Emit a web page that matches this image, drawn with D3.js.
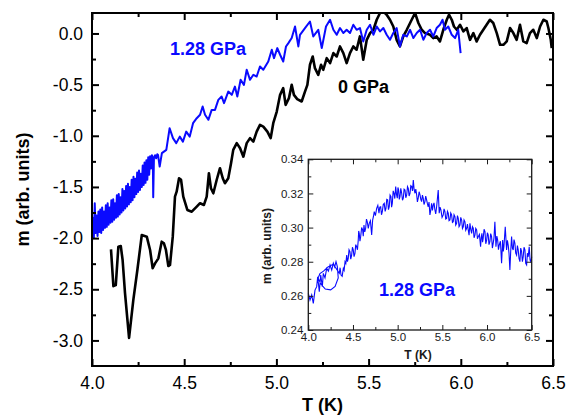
<!DOCTYPE html>
<html><head><meta charset="utf-8">
<script src="https://cdn.jsdelivr.net/npm/d3@7"></script>
<style>body{margin:0;background:#fff}svg{display:block}text{font-family:"Liberation Sans",Arial,sans-serif}</style>
</head><body><svg id="c" width="574" height="418"></svg>
<script>
// ---- tick labels ----
const xTicks = [4.0, 4.5, 5.0, 5.5, 6.0, 6.5];
const xMinor = [4.25, 4.75, 5.25, 5.75, 6.25];
const yTicks = [0.0, -0.5, -1.0, -1.5, -2.0, -2.5, -3.0];
const yMinor = [-0.25, -0.75, -1.25, -1.75, -2.25, -2.75];
const insetYTicks = [0.24, 0.26, 0.28, 0.30, 0.32, 0.34];
const insetYMinor = [0.25, 0.27, 0.29, 0.31, 0.33];

// ---- 0 GPa (black): T (K) and m ----
const T0 = [4.103,4.116,4.129,4.143,4.156,4.166,4.179,4.201,4.224,4.246,4.270,4.297,4.315,4.329,4.342,4.360,4.378,4.390,4.401,4.414,4.423,4.438,4.450,4.459,4.472,4.483,4.495,4.517,4.541,4.568,4.586,4.607,4.622,4.634,4.645,4.658,4.676,4.694,4.709,4.721,4.739,4.754,4.766,4.785,4.803,4.821,4.839,4.857,4.875,4.893,4.911,4.929,4.951,4.969,4.983,5.002,5.020,5.037,5.050,5.068,5.083,5.095,5.113,5.137,5.155,5.168,5.182,5.197,5.209,5.227,5.242,5.254,5.273,5.291,5.309,5.327,5.345,5.363,5.381,5.399,5.417,5.435,5.453,5.471,5.490,5.508,5.526,5.544,5.562,5.580,5.598,5.616,5.634,5.652,5.670,5.688,5.707,5.725,5.752,5.770,5.788,5.806,5.833,5.851,5.869,5.887,5.905,5.924,5.936,5.951,5.963,5.978,5.996,6.014,6.032,6.050,6.068,6.086,6.104,6.122,6.140,6.158,6.176,6.195,6.213,6.231,6.249,6.267,6.285,6.303,6.321,6.339,6.357,6.375,6.393,6.412,6.430,6.448,6.466,6.475,6.488,6.493];
const M0 = [-2.110,-2.469,-2.459,-2.084,-2.077,-2.214,-2.537,-2.975,-2.606,-2.312,-1.970,-1.986,-2.116,-2.295,-2.247,-2.198,-2.035,-2.051,-2.116,-2.273,-2.263,-1.986,-1.595,-1.546,-1.415,-1.431,-1.595,-1.725,-1.742,-1.693,-1.659,-1.676,-1.595,-1.366,-1.513,-1.562,-1.432,-1.317,-1.415,-1.464,-1.415,-1.268,-1.138,-1.072,-1.121,-1.204,-1.072,-1.023,-1.057,-0.959,-0.893,-0.910,-0.959,-1.023,-0.877,-0.763,-0.600,-0.534,-0.698,-0.632,-0.502,-0.600,-0.642,-0.665,-0.568,-0.502,-0.306,-0.225,-0.339,-0.404,-0.306,-0.355,-0.241,-0.290,-0.192,-0.225,-0.127,-0.192,-0.290,-0.192,-0.127,-0.159,-0.029,-0.257,-0.062,0.004,0.036,0.134,0.200,0.215,0.183,0.134,0.068,-0.062,-0.127,-0.029,0.036,0.102,0.200,0.102,0.036,0.004,-0.013,-0.045,-0.029,-0.078,0.036,0.134,0.183,0.134,0.068,0.036,0.085,0.020,0.053,-0.062,0.004,-0.078,-0.013,0.036,0.085,0.134,0.102,0.004,-0.111,-0.111,-0.078,0.053,0.004,-0.062,0.085,-0.078,-0.094,0.004,0.036,-0.045,0.068,0.134,0.117,0.053,-0.062,-0.143];

// ---- 1.28 GPa (blue, main): [T (K), m] ----
const P1 = [[4.000,-2.04],[4.005,-1.80],[4.010,-2.00],[4.015,-1.66],[4.020,-1.95],[4.025,-1.78],[4.030,-1.98],[4.035,-1.74],[4.040,-1.94],[4.045,-1.72],[4.050,-1.95],[4.055,-1.70],[4.060,-1.92],[4.065,-1.74],[4.070,-1.90],[4.075,-1.68],[4.080,-1.89],[4.085,-1.66],[4.090,-1.87],[4.095,-1.70],[4.100,-1.85],[4.105,-1.63],[4.110,-1.84],[4.115,-1.62],[4.120,-1.82],[4.125,-1.66],[4.130,-1.80],[4.135,-1.58],[4.140,-1.79],[4.145,-1.57],[4.150,-1.77],[4.155,-1.60],[4.160,-1.75],[4.165,-1.52],[4.170,-1.73],[4.175,-1.54],[4.180,-1.71],[4.185,-1.49],[4.190,-1.69],[4.195,-1.47],[4.200,-1.67],[4.205,-1.50],[4.210,-1.65],[4.215,-1.43],[4.220,-1.63],[4.225,-1.40],[4.230,-1.60],[4.235,-1.42],[4.240,-1.57],[4.245,-1.36],[4.250,-1.55],[4.255,-1.34],[4.260,-1.53],[4.265,-1.37],[4.270,-1.50],[4.275,-1.29],[4.280,-1.48],[4.285,-1.26],[4.290,-1.46],[4.295,-1.24],[4.300,-1.43],[4.305,-1.21],[4.310,-1.38],[4.315,-1.20],[4.320,-1.32],[4.325,-1.19],[4.330,-1.25],[4.332,-1.60],[4.336,-1.21],[4.342,-1.19],[4.348,-1.22],[4.354,-1.18],[4.358,-1.187],
[4.367,-1.301],[4.379,-1.170],[4.403,-1.138],[4.421,-0.926],[4.439,-1.023],[4.457,-1.072],[4.476,-1.008],[4.493,-1.057],[4.511,-0.959],[4.530,-1.008],[4.548,-0.877],[4.568,-0.828],[4.586,-0.795],[4.600,-0.714],[4.613,-0.795],[4.631,-0.844],[4.649,-0.747],[4.667,-0.747],[4.685,-0.649],[4.703,-0.616],[4.716,-0.681],[4.739,-0.568],[4.758,-0.600],[4.775,-0.519],[4.788,-0.616],[4.806,-0.453],[4.824,-0.502],[4.839,-0.355],[4.857,-0.453],[4.875,-0.404],[4.893,-0.421],[4.911,-0.323],[4.929,-0.355],[4.956,-0.274],[4.975,-0.159],[4.987,-0.241],[5.005,-0.143],[5.020,-0.208],[5.037,-0.274],[5.052,-0.127],[5.065,-0.094],[5.083,-0.045],[5.101,0.068],[5.119,-0.127],[5.128,-0.013],[5.155,0.053],[5.182,0.117],[5.200,-0.029],[5.227,0.036],[5.246,-0.143],[5.269,0.068],[5.291,0.134],[5.309,0.036],[5.327,-0.013],[5.345,0.053],[5.363,0.004],[5.381,0.036],[5.399,0.004],[5.417,0.085],[5.435,0.036],[5.453,0.053],[5.471,-0.078],[5.490,0.036],[5.508,0.085],[5.526,-0.013],[5.544,0.068],[5.562,0.020],[5.580,0.053],[5.598,-0.013],[5.616,-0.062],[5.634,0.004],[5.652,0.053],[5.670,-0.127],[5.688,-0.013],[5.707,-0.029],[5.725,0.036],[5.743,-0.045],[5.761,0.004],[5.779,0.036],[5.797,-0.062],[5.815,0.004],[5.833,0.036],[5.851,-0.029],[5.869,0.053],[5.887,0.085],[5.901,0.134],[5.914,0.036],[5.932,0.068],[5.951,-0.013],[5.969,-0.045],[5.986,0.036],[5.999,-0.192]];

// ---- inset, 1.28 GPa: [T (K), m] ----
const Pi = [[4.000,.2615],[4.019,.2576],[4.038,.2605],[4.056,.2556],[4.075,.2634],[4.094,.2654],[4.105,.2712],[4.123,.2624],[4.139,.2722],[4.157,.2654],[4.168,.2732],[4.187,.2705],[4.206,.2761],[4.225,.2745],[4.243,.2781],[4.262,.2751],[4.280,.2791],[4.295,.2770],[4.310,.2800],[4.325,.2771],
[4.335,.2705],[4.300,.2655],[4.250,.2635],[4.190,.2640],[4.140,.2670],[4.110,.2705],[4.130,.2730],[4.170,.2745],[4.220,.2770],[4.280,.2785],
[4.347,.2732],[4.356,.2765],[4.366,.2722],[4.379,.2715],[4.392,.2761],[4.401,.2750],[4.411,.2800],[4.420,.2790],[4.430,.2839],[4.438,.2800],[4.447,.2820],[4.456,.2870],[4.466,.2859],[4.475,.2815],[4.485,.2839],[4.494,.2885],[4.503,.2869],[4.512,.2830],[4.522,.2849],[4.531,.2900],[4.541,.2888],[4.550,.2870],[4.559,.2927],[4.564,.2980],[4.570,.2966],[4.578,.2920],[4.586,.2947],[4.597,.3000],[4.608,.2986],[4.615,.2950],[4.623,.3015],[4.632,.2975],[4.642,.2996],[4.651,.3050],[4.660,.3034],[4.671,.2995],[4.682,.3025],[4.695,.3040],[4.709,.2957],[4.720,.3044],[4.729,.3065],[4.738,.3093],[4.751,.3070],[4.765,.3113],[4.778,.3130],[4.791,.3084],[4.800,.3120],[4.810,.3122],[4.819,.3075],[4.828,.3093],[4.839,.3135],[4.850,.3142],[4.860,.3095],[4.869,.3113],[4.878,.3165],[4.888,.3162],[4.897,.3105],[4.906,.3122],[4.915,.3190],[4.925,.3181],[4.932,.3120],[4.940,.3142],[4.950,.3215],[4.959,.3201],[4.968,.3170],[4.978,.3240],[4.987,.3195],[4.996,.3172],[5.003,.3235],[5.011,.3220],[5.018,.3165],[5.026,.3181],[5.035,.3230],[5.045,.3201],[5.054,.3160],[5.063,.3172],[5.072,.3225],[5.082,.3220],[5.091,.3175],[5.101,.3191],[5.110,.3240],[5.119,.3230],[5.128,.3185],[5.138,.3201],[5.147,.3245],[5.157,.3240],[5.166,.3215],[5.175,.3279],[5.184,.3225],[5.194,.3201],[5.203,.3225],[5.213,.3191],[5.221,.3150],[5.230,.3172],[5.240,.3210],[5.250,.3191],[5.259,.3165],[5.268,.3152],[5.277,.3190],[5.286,.3172],[5.295,.3135],[5.305,.3152],[5.314,.3185],[5.324,.3162],[5.333,.3140],[5.342,.3122],[5.351,.3150],[5.361,.3074],[5.370,.3100],[5.380,.3142],[5.389,.3100],[5.398,.3132],[5.407,.3145],[5.417,.3103],[5.426,.3080],[5.436,.3122],[5.454,.3220],[5.465,.3084],[5.474,.3120],[5.484,.3103],[5.497,.3060],[5.510,.3074],[5.519,.3110],[5.529,.3093],[5.538,.3050],[5.548,.3054],[5.557,.3095],[5.566,.3084],[5.575,.3040],[5.585,.3044],[5.594,.3085],[5.604,.3074],[5.613,.3030],[5.622,.3034],[5.631,.3075],[5.641,.3064],[5.650,.3015],[5.660,.3025],[5.669,.3070],[5.678,.3054],[5.687,.3005],[5.697,.3015],[5.706,.3060],[5.716,.3044],[5.725,.2995],[5.734,.3005],[5.743,.3045],[5.753,.3034],[5.762,.2985],[5.772,.2996],[5.781,.3020],[5.790,.2986],[5.799,.2955],[5.809,.3025],[5.818,.2990],[5.828,.2966],[5.837,.3005],[5.846,.2996],[5.855,.2940],[5.865,.2957],[5.874,.2995],[5.884,.2986],[5.893,.2935],[5.902,.2947],[5.915,.2960],[5.928,.2888],[5.935,.2940],[5.943,.2966],[5.950,.2915],[5.957,.2937],[5.967,.2990],[5.977,.2976],[5.986,.2905],[5.996,.2927],[6.004,.2970],[6.013,.2957],[6.022,.2900],[6.032,.2917],[6.041,.2965],[6.051,.2947],[6.060,.2880],[6.069,.2908],[6.078,.2940],[6.088,.3034],[6.100,.2888],[6.110,.2950],[6.119,.2927],[6.128,.2870],[6.137,.2898],[6.150,.2920],[6.163,.2791],[6.175,.2927],[6.182,.2860],[6.189,.2888],[6.204,.3005],[6.219,.2869],[6.228,.2925],[6.237,.2898],[6.246,.2850],[6.256,.2751],[6.265,.2860],[6.275,.2947],[6.284,.2880],[6.293,.2869],[6.302,.2930],[6.312,.2908],[6.321,.2850],[6.331,.2839],[6.340,.2895],[6.349,.2869],[6.358,.2820],[6.368,.2800],[6.377,.2880],[6.387,.2859],[6.396,.2800],[6.405,.2829],[6.414,.2885],[6.424,.2869],[6.433,.2790],[6.443,.2781],[6.452,.2850],[6.461,.2829],[6.472,.2888],[6.482,.2810],[6.491,.2800],[6.500,.2829]];

const BLUE = "#0a0aff";
const svg = d3.select("#c");

// main scales
const x = d3.scaleLinear().domain([4.0, 6.5]).range([92, 553]);
const y = d3.scaleLinear().domain([-3.25, 0.2]).range([366, 13]);
// inset scales
const xi = d3.scaleLinear().domain([4.0, 6.5]).range([308.3, 531.7]);
const yi = d3.scaleLinear().domain([0.24, 0.34]).range([330, 159.3]);

function frame(g, xs, ys, xt, xm, yt, ym, o) {
  const [x0, x1] = xs.range(), [y0, y1] = ys.range();
  const style = sel => {
    sel.select(".domain").remove();
    sel.selectAll(".tick line").attr("stroke", o.color).attr("stroke-width", o.tw);
    sel.selectAll(".tick text").attr("fill", o.color).style("font-size", o.fs + "px");
  };
  g.append("g").attr("transform", `translate(0,${y0})`)
    .call(d3.axisBottom(xs).tickValues(xt).tickSize(-o.maj).tickPadding(o.padX).tickFormat(o.xf)).call(style);
  g.append("g").attr("transform", `translate(${x0},0)`)
    .call(d3.axisLeft(ys).tickValues(yt).tickSize(-o.maj).tickPadding(o.padY).tickFormat(o.yf)).call(style);
  g.append("g").attr("transform", `translate(0,${y1})`)
    .call(d3.axisTop(xs).tickValues(xt).tickSize(-o.maj).tickFormat("")).call(style);
  g.append("g").attr("transform", `translate(${x1},0)`)
    .call(d3.axisRight(ys).tickValues(yt).tickSize(-o.maj).tickFormat("")).call(style);
  g.append("g").attr("transform", `translate(0,${y0})`).call(d3.axisBottom(xs).tickValues(xm).tickSize(-o.min).tickFormat("")).call(style);
  g.append("g").attr("transform", `translate(0,${y1})`).call(d3.axisTop(xs).tickValues(xm).tickSize(-o.min).tickFormat("")).call(style);
  g.append("g").attr("transform", `translate(${x0},0)`).call(d3.axisLeft(ys).tickValues(ym).tickSize(-o.min).tickFormat("")).call(style);
  g.append("g").attr("transform", `translate(${x1},0)`).call(d3.axisRight(ys).tickValues(ym).tickSize(-o.min).tickFormat("")).call(style);
  g.append("rect").attr("x", x0).attr("y", y1).attr("width", x1 - x0).attr("height", y0 - y1)
    .attr("fill", "none").attr("stroke", o.color).attr("stroke-width", o.bw);
}

svg.append("defs").append("clipPath").attr("id", "clipMain")
  .append("rect").attr("x", x.range()[0]).attr("y", y.range()[1])
  .attr("width", x.range()[1] - x.range()[0]).attr("height", y.range()[0] - y.range()[1]);

const lineMain = d3.line().x(d => x(d[0])).y(d => y(d[1]));
const curves = svg.append("g").attr("clip-path", "url(#clipMain)");
curves.append("path").datum(T0.map((t, i) => [t, M0[i]])).attr("d", lineMain)
  .attr("fill", "none").attr("stroke", "#000").attr("stroke-width", 2.6).attr("stroke-linejoin", "round");
curves.append("path").datum(P1).attr("d", lineMain)
  .attr("fill", "none").attr("stroke", BLUE).attr("stroke-width", 2).attr("stroke-linejoin", "round");

const gMain = svg.append("g");
frame(gMain, x, y, xTicks, xMinor, yTicks, yMinor,
  {color: "#000", tw: 2, bw: 2, maj: 7, min: 4, padX: 11, padY: 9, fs: 17.5,
   xf: d3.format(".1f"), yf: d => d3.format(".1f")(d).replace("−", "-")});

svg.append("text").attr("x", 322.5).attr("y", 411).attr("text-anchor", "middle")
  .style("font-size", "18px").style("font-weight", "bold").text("T (K)");
svg.append("text").attr("transform", "translate(29,189.5) rotate(-90)").attr("text-anchor", "middle")
  .style("font-size", "18px").style("font-weight", "bold").text("m (arb. units)");

svg.append("text").attr("x", 170).attr("y", 55).style("font-size", "18px").style("font-weight", "bold")
  .attr("fill", BLUE).text("1.28 GPa");
svg.append("text").attr("x", 338).attr("y", 93).style("font-size", "18px").style("font-weight", "bold")
  .attr("fill", "#000").text("0 GPa");

// ---- inset ----
const gIn = svg.append("g");
gIn.append("rect").attr("x", xi.range()[0]).attr("y", yi.range()[1])
  .attr("width", xi.range()[1] - xi.range()[0]).attr("height", yi.range()[0] - yi.range()[1]).attr("fill", "#fff");
gIn.append("path").datum(Pi)
  .attr("d", d3.line().x(d => xi(d[0])).y(d => yi(d[1])))
  .attr("fill", "none").attr("stroke", BLUE).attr("stroke-width", 1.1);
frame(gIn, xi, yi, xTicks, xMinor, insetYTicks, insetYMinor,
  {color: "#1a1a1a", tw: 1, bw: 1.3, maj: 5, min: 3, padX: 3, padY: 5, fs: 11.5,
   xf: d3.format(".1f"), yf: d3.format(".2f")});
svg.append("text").attr("x", 418).attr("y", 359).attr("text-anchor", "middle")
  .style("font-size", "12px").style("font-weight", "bold").attr("fill", "#1a1a1a").text("T (K)");
svg.append("text").attr("transform", "translate(271,246) rotate(-90)").attr("text-anchor", "middle")
  .style("font-size", "12px").style("font-weight", "bold").attr("fill", "#1a1a1a").text("m (arb. units)");
svg.append("text").attr("x", 379).attr("y", 296).style("font-size", "18px").style("font-weight", "bold")
  .attr("fill", BLUE).text("1.28 GPa");
</script></body></html>
